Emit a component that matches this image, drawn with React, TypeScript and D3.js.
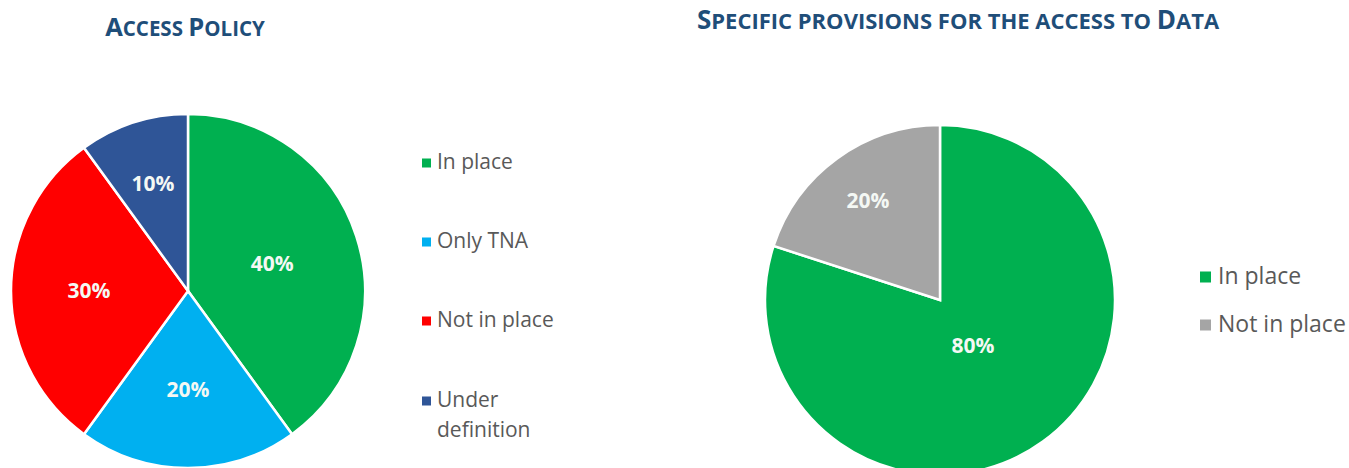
import React from "react";
import * as d3 from "d3";

const accessCategories = ["In place", "Only TNA", "Not in place", "Under definition"];
const accessValues = [40, 20, 30, 10];
const accessColors = ["#00B050", "#00B0F0", "#FF0000", "#2F5597"];

const dataCategories = ["In place", "Not in place"];
const dataValues = [80, 20];
const dataColors = ["#00B050", "#A5A5A5"];

const W = 1349;
const H = 468;
const FONT = "'Open Sans', 'Liberation Sans', sans-serif";
const TITLE_COLOR = "#1F4E79";

// Render small-caps manually: uppercase letters at big size, lowercase at smaller uppercase size
function SmallCaps({ x, y, text, big, small }) {
  const parts = [];
  let cur = "";
  let curBig = null;
  for (const ch of text) {
    const isBig = ch !== ch.toLowerCase();
    if (curBig === null || isBig === curBig || ch === " ") {
      cur += ch;
      if (curBig === null && ch !== " ") curBig = isBig;
    } else {
      parts.push({ t: cur, b: curBig });
      cur = ch;
      curBig = isBig;
    }
  }
  if (cur) parts.push({ t: cur, b: curBig });
  return (
    <text x={x} y={y} textAnchor="middle" fill={TITLE_COLOR} fontFamily={FONT} fontWeight={700}>
      {parts.map((p, i) => (
        <tspan key={i} fontSize={p.b ? big : small} style={{ whiteSpace: "pre" }}>
          {p.t.toUpperCase()}
        </tspan>
      ))}
    </text>
  );
}

function Pie({ cx, cy, r, values, colors, labelFactor }) {
  const pie = d3.pie<number>().sort(null).value((d) => d);
  const arcs = pie(values);
  const arc = d3.arc<any>().innerRadius(0).outerRadius(r);
  return (
    <g transform={`translate(${cx},${cy})`}>
      {arcs.map((a, i) => (
        <path key={i} d={arc(a) || ""} fill={colors[i]} stroke="#fff" strokeWidth={2.5} />
      ))}
      {arcs.map((a, i) => {
        const lr = r * labelFactor(a.data, i);
        const la = d3.arc<any>().innerRadius(lr).outerRadius(lr);
        const [x, y] = la.centroid(a);
        return (
          <text key={"l" + i} x={x} y={y} dy="0.35em" textAnchor="middle" fill="#F4F8F4"
            fontFamily={FONT} fontWeight={700} fontSize={21}>
            {`${a.data}%`}
          </text>
        );
      })}
    </g>
  );
}

function Legend({ x, ys, labels, colors, fontSize, gap, box }) {
  return (
    <g>
      {labels.map((lab, i) => {
        const lines = lab === "Under definition" ? ["Under", "definition"] : [lab];
        return (
          <g key={i}>
            <rect x={x} y={ys[i] - box / 2 + 1} width={box} height={box} fill={colors[i]} />
            {lines.map((ln, j) => (
              <text key={j} x={x + gap} y={ys[i] + j * 30} dy="0.35em" fill="#595959"
                fontFamily={FONT} fontSize={fontSize}>
                {ln}
              </text>
            ))}
          </g>
        );
      })}
    </g>
  );
}

export default function App() {
  return (
    <svg width={W} height={H} style={{ position: "absolute", left: 0, top: 0, background: "#fff" }}>
      <SmallCaps x={185} y={36} text="Access Policy" big={25.5} small={20.5} />
      <SmallCaps x={958} y={29} text="Specific provisions for the access to Data" big={26} small={22} />
      <Pie cx={188} cy={291} r={177} values={accessValues} colors={accessColors}
        labelFactor={(v) => (v === 40 ? 0.5 : v === 10 ? 0.64 : 0.56)} />
      <Legend x={422} ys={[162, 241, 320, 400]} labels={accessCategories} colors={accessColors}
        fontSize={21} gap={15} box={9} />
      <Pie cx={940} cy={300} r={175} values={dataValues} colors={dataColors}
        labelFactor={(v) => (v >= 50 ? 0.32 : 0.7)} />
      <Legend x={1200} ys={[276, 324]} labels={dataCategories} colors={dataColors}
        fontSize={23} gap={18} box={11} />
    </svg>
  );
}
